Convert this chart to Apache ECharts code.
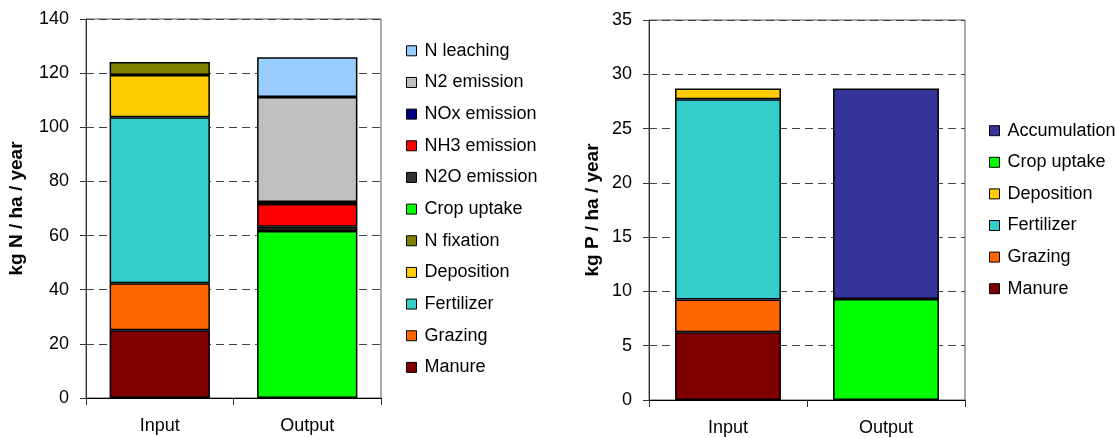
<!DOCTYPE html>
<html>
<head>
<meta charset="utf-8">
<script src="https://cdn.jsdelivr.net/npm/echarts@6/dist/echarts.min.js"></script>
<style>
html,body{margin:0;padding:0;background:#fff;}
#chart{width:1116px;height:438px;}
</style>
</head>
<body>
<div id="chart"></div>
<script>
// ---------- Data ----------
const categories = ['Input', 'Output'];

// Nitrogen balance (kg N / ha / year), stacking order bottom -> top
const nSeriesNames = ['Manure', 'Grazing', 'Fertilizer', 'Deposition', 'N fixation',
  'Crop uptake', 'N2O emission', 'NH3 emission', 'NOx emission', 'N2 emission', 'N leaching'];
const nInputValues  = [25, 17.4, 61.3, 15.6, 4.8, null, null, null, null, null, null];
const nOutputValues = [null, null, null, null, null, 61.7, 1.6, 8.4, 0.7, 38.8, 14.7];
const nLegendOrder = ['N leaching', 'N2 emission', 'NOx emission', 'NH3 emission', 'N2O emission',
  'Crop uptake', 'N fixation', 'Deposition', 'Fertilizer', 'Grazing', 'Manure'];
const nTicks = { min: 0, max: 140, interval: 20 };

// Phosphorus balance (kg P / ha / year)
const pSeriesNames = ['Manure', 'Grazing', 'Fertilizer', 'Deposition', 'Crop uptake', 'Accumulation'];
const pInputValues  = [6.25, 3.0, 18.45, 1.0, null, null];
const pOutputValues = [null, null, null, null, 9.3, 19.4];
const pLegendOrder = ['Accumulation', 'Crop uptake', 'Deposition', 'Fertilizer', 'Grazing', 'Manure'];
const pTicks = { min: 0, max: 35, interval: 5 };

const colors = {
  'N leaching': '#99CCFF',
  'N2 emission': '#C0C0C0',
  'NOx emission': '#000080',
  'NH3 emission': '#FF0000',
  'N2O emission': '#333333',
  'Crop uptake': '#00FF00',
  'N fixation': '#808000',
  'Deposition': '#FFCC00',
  'Fertilizer': '#33CCCC',
  'Grazing': '#FF6600',
  'Manure': '#800000',
  'Accumulation': '#333399'
};

// ---------- Chart ----------
const FONT = 'Liberation Sans, Arial, sans-serif';
const chart = echarts.init(document.getElementById('chart'), null, { renderer: 'canvas' });

function yAxis(gridIndex, ticks, name, nameGap) {
  return {
    type: 'value', gridIndex: gridIndex,
    min: ticks.min, max: ticks.max, interval: ticks.interval,
    name: name, nameLocation: 'middle', nameGap: nameGap, nameRotate: 90,
    nameTextStyle: { fontFamily: FONT, fontSize: 19, fontWeight: 'bold', color: '#000' },
    axisLine: { show: true, lineStyle: { color: '#333', width: 1 } },
    axisTick: { show: true, length: 6, lineStyle: { color: '#333' } },
    axisLabel: { fontFamily: FONT, fontSize: 18, color: '#000', margin: 17 },
    splitLine: { show: true, lineStyle: { color: '#444', type: [8, 5], width: 1 } }
  };
}
function xAxis(gridIndex) {
  return {
    type: 'category', gridIndex: gridIndex, data: categories,
    boundaryGap: true,
    axisLine: { show: true, lineStyle: { color: '#000', width: 1 } },
    axisTick: { show: true, length: 7, alignWithLabel: false, lineStyle: { color: '#333' } },
    axisLabel: { fontFamily: FONT, fontSize: 18, color: '#000', margin: 19 },
    splitLine: { show: false }
  };
}

function makeSeries(names, inVals, outVals, idx, stack, width) {
  return names.map((n, i) => ({
    name: n, type: 'bar', stack: stack,
    xAxisIndex: idx, yAxisIndex: idx,
    barWidth: width,
    data: [inVals[i], outVals[i]],
    itemStyle: { color: colors[n], borderColor: '#000', borderWidth: 1.5 },
    emphasis: { disabled: true },
    animation: false
  }));
}

function makeLegends(order, left, firstCenter, step) {
  return order.map((n, i) => ({
    data: [n], orient: 'vertical',
    left: left, top: firstCenter + i * step - 9,
    padding: 0, itemWidth: 10, itemHeight: 10, icon: 'rect',
    itemStyle: { borderColor: '#000', borderWidth: 1 },
    textStyle: { fontFamily: FONT, fontSize: 18, color: '#000', lineHeight: 18, padding: [0, 0, 0, 3] },
    selectedMode: false
  }));
}

const option = {
  backgroundColor: '#fff',
  animation: false,
  grid: [
    { left: 86, top: 19, width: 295, height: 379, show: true, borderColor: '#555', borderWidth: 1, backgroundColor: 'transparent' },
    { left: 649, top: 20, width: 316, height: 380, show: true, borderColor: '#555', borderWidth: 1, backgroundColor: 'transparent' }
  ],
  xAxis: [xAxis(0), xAxis(1)],
  yAxis: [yAxis(0, nTicks, 'kg N / ha / year', 60), yAxis(1, pTicks, 'kg P / ha / year', 47)],
  legend: makeLegends(nLegendOrder, 406, 50.8, 31.66).concat(makeLegends(pLegendOrder, 989, 130.7, 31.6)),
  series: makeSeries(nSeriesNames, nInputValues, nOutputValues, 0, 'n', '68%')
    .concat(makeSeries(pSeriesNames, pInputValues, pOutputValues, 1, 'p', '67%'))
};
chart.setOption(option);
</script>
</body>
</html>
